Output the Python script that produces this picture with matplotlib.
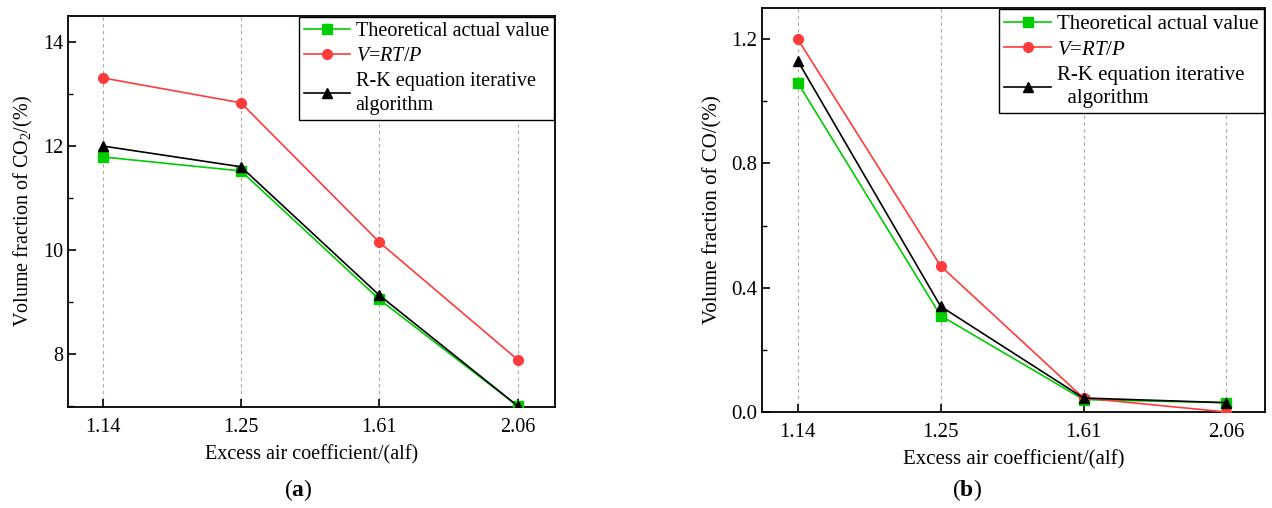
import matplotlib
matplotlib.use("Agg")
import matplotlib.pyplot as plt
from matplotlib.ticker import MultipleLocator

plt.rcParams['font.family'] = ['Liberation Serif', 'DejaVu Serif']
plt.rcParams['mathtext.fontset'] = 'custom'
plt.rcParams['mathtext.rm'] = 'Liberation Serif'
plt.rcParams['mathtext.it'] = 'Liberation Serif:italic'
plt.rcParams['mathtext.bf'] = 'Liberation Serif:bold'

# data
alf = ['1.14', '1.25', '1.61', '2.06']

co2_theory = [11.79, 11.52, 9.05, 7.0]
co2_ideal = [13.31, 12.83, 10.15, 7.89]
co2_rk = [12.0, 11.6, 9.13, 7.0]

co_theory = [1.06, 0.31, 0.04, 0.03]
co_ideal = [1.20, 0.47, 0.045, 0.0]
co_rk = [1.13, 0.34, 0.045, 0.03]

labels = ['Theoretical actual value', r'$V$=$RT$/$P$',
          'R-K equation iterative\nalgorithm']

green = '#00cc00'
red = '#ff3b3b'
black = '#000000'

fig = plt.figure(figsize=(12.72, 5.08), dpi=100)
ax1 = fig.add_axes([68/1272, 1-407/508, (555-68)/1272, (407-16)/508])
ax2 = fig.add_axes([762/1272, 1-412/508, (1265-762)/1272, (412-8)/508])


def draw(ax, theory, ideal, rk, rk_label, fs):
    x = range(len(alf))
    ax.plot(x, theory, color=green, marker='s', ms=6.5, lw=1.2,
            label=labels[0], zorder=3)
    ax.plot(x, ideal, color=red, marker='o', ms=7, lw=1.2,
            label=labels[1], zorder=3)
    ax.plot(x, rk, color=black, marker='^', ms=7.5, lw=1.2,
            label=rk_label, zorder=4)
    ax.set_xticks(list(x))
    ax.set_xticklabels(alf)
    ax.set_xlim(-0.25, 3.27)
    for xi in x:
        ax.axvline(xi, color='#aaaaaa', ls=(0, (3, 3)), lw=0.8, zorder=1)
    ax.tick_params(direction='in', labelsize=fs, length=6, width=1.2)
    ax.tick_params(which='minor', direction='in', length=3.5, width=1.0)
    ax.tick_params(axis='x', pad=8)
    for s in ax.spines.values():
        s.set_linewidth(1.3)
    ax.set_xlabel('Excess air coefficient/(alf)', fontsize=fs, labelpad=6)
    leg = ax.legend(loc='upper right', fontsize=fs, frameon=True,
                    fancybox=False, edgecolor='black', framealpha=1,
                    borderaxespad=0.05, handlelength=2.25, handletextpad=0.3,
                    labelspacing=0.3, borderpad=0.25)
    leg.get_frame().set_linewidth(1.0)
    for t in leg.get_texts():
        t.set_linespacing(1.3)


draw(ax1, co2_theory, co2_ideal, co2_rk, labels[2], 14.5)
ax1.set_ylim(6.98, 14.5)
ax1.yaxis.set_major_locator(MultipleLocator(2))
ax1.yaxis.set_minor_locator(MultipleLocator(1))
ax1.set_ylabel('Volume fraction of CO$_2$/(%)', fontsize=14.5, labelpad=6)

draw(ax2, co_theory, co_ideal, co_rk, 'R-K equation iterative\n  algorithm', 15)
ax2.set_ylim(0, 1.3)
ax2.yaxis.set_major_locator(MultipleLocator(0.4))
ax2.yaxis.set_minor_locator(MultipleLocator(0.2))
ax2.yaxis.set_major_formatter(plt.FormatStrFormatter('%.1f'))
ax2.set_ylabel('Volume fraction of CO/(%)', fontsize=15, labelpad=6)

fig.text(298/1272, 1-490/508, r'($\mathbf{a}$)', ha='center', va='center', fontsize=17)
fig.text(967/1272, 1-490/508, r'($\mathbf{b}$)', ha='center', va='center', fontsize=17)

fig.savefig('out.png', dpi=100)
